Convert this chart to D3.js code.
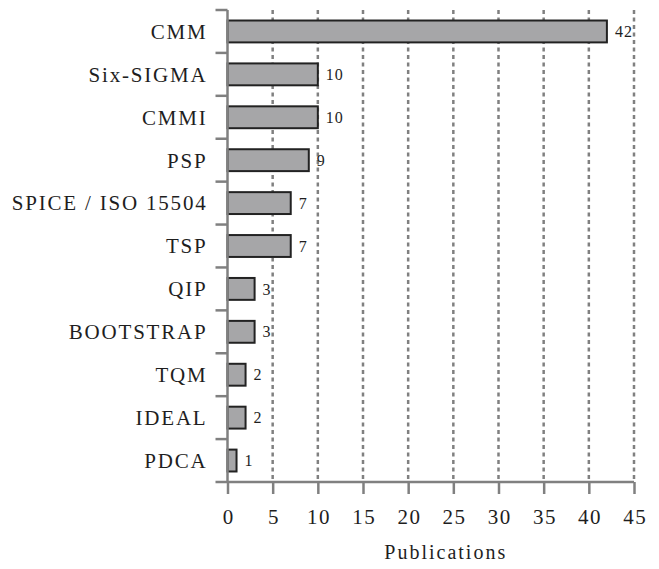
<!DOCTYPE html>
<html>
<head>
<meta charset="utf-8">
<script src="https://d3js.org/d3.v7.min.js"></script>
<style>
  body { margin: 0; background: #fff; }
  svg { font-family: "Liberation Serif", "DejaVu Serif", serif; }
</style>
</head>
<body>
<div id="chart"></div>
<script>
// Publications per improvement model
const categories = ["CMM", "Six-SIGMA", "CMMI", "PSP", "SPICE / ISO 15504", "TSP",
                    "QIP", "BOOTSTRAP", "TQM", "IDEAL", "PDCA"];
const publications = [42, 10, 10, 9, 7, 7, 3, 3, 2, 2, 1];
const xTicks = [0, 5, 10, 15, 20, 25, 30, 35, 40, 45];

const width = 659, height = 569;
const margin = { top: 10, right: 25, bottom: 87, left: 227.5 };
const innerW = width - margin.left - margin.right;
const innerH = height - margin.top - margin.bottom;

const axisColor = "#808080";
const textColor = "#1e1e1e";

const svg = d3.select("#chart")
    .append("svg")
    .attr("width", width)
    .attr("height", height);

const g = svg.append("g")
    .attr("transform", `translate(${margin.left},${margin.top})`);

const x = d3.scaleLinear().domain([0, 45]).range([0, innerW]);
const y = d3.scaleBand().domain(categories).range([0, innerH]).paddingInner(0.49).paddingOuter(0.245);

// dashed grid lines
g.selectAll("line.grid")
    .data(xTicks.slice(1))
    .enter()
    .append("line")
    .attr("class", "grid")
    .attr("x1", d => x(d))
    .attr("x2", d => x(d))
    .attr("y1", 0)
    .attr("y2", innerH)
    .attr("stroke", axisColor)
    .attr("stroke-width", 2.5)
    .attr("stroke-dasharray", "4,3.5");

// bars
g.selectAll("rect.bar")
    .data(publications)
    .enter()
    .append("rect")
    .attr("class", "bar")
    .attr("x", x(0))
    .attr("y", (d, i) => y(categories[i]))
    .attr("width", d => x(d) - x(0))
    .attr("height", y.bandwidth())
    .attr("fill", "#a6a6a8")
    .attr("stroke", "#222")
    .attr("stroke-width", 2);

// value labels
g.selectAll("text.value")
    .data(publications)
    .enter()
    .append("text")
    .attr("class", "value")
    .attr("x", d => x(d) + 8)
    .attr("y", (d, i) => y(categories[i]) + y.bandwidth() / 2)
    .attr("dy", "0.35em")
    .attr("font-size", "16px")
    .attr("letter-spacing", "1px")
    .attr("fill", textColor)
    .text(d => d);

// y axis: line with ticks at category boundaries
const step = y.step();
const boundaries = d3.range(categories.length).map(i => i * step);
g.append("line")
    .attr("x1", 0).attr("x2", 0)
    .attr("y1", 0).attr("y2", innerH)
    .attr("stroke", axisColor)
    .attr("stroke-width", 2.5);
g.selectAll("line.ytick")
    .data(boundaries)
    .enter()
    .append("line")
    .attr("class", "ytick")
    .attr("x1", -12).attr("x2", 0)
    .attr("y1", d => d).attr("y2", d => d)
    .attr("stroke", axisColor)
    .attr("stroke-width", 2.5);

g.selectAll("text.cat")
    .data(categories)
    .enter()
    .append("text")
    .attr("class", "cat")
    .attr("x", -20)
    .attr("y", d => y(d) + y.bandwidth() / 2)
    .attr("dy", "0.35em")
    .attr("text-anchor", "end")
    .attr("font-size", "21px")
    .attr("letter-spacing", "1.8px")
    .attr("fill", textColor)
    .text(d => d);

// x axis
const xAxis = g.append("g")
    .attr("transform", `translate(0,${innerH})`)
    .call(d3.axisBottom(x).tickValues(xTicks).tickSize(12).tickPadding(15).tickSizeOuter(0));
xAxis.select(".domain").remove();
xAxis.append("line")
    .attr("x1", -12).attr("x2", innerW)
    .attr("y1", 0).attr("y2", 0)
    .attr("stroke", axisColor)
    .attr("stroke-width", 2.5);
xAxis.selectAll(".tick line")
    .attr("stroke", axisColor)
    .attr("stroke-width", 2.5);
xAxis.selectAll(".tick text")
    .attr("font-family", "Liberation Serif, serif")
    .attr("font-size", "21px")
    .attr("letter-spacing", "1.5px")
    .attr("dx", "0.75px")
    .attr("fill", textColor);

svg.append("text")
    .attr("x", margin.left + innerW / 2 + 15)
    .attr("y", 559)
    .attr("text-anchor", "middle")
    .attr("font-size", "20px")
    .attr("letter-spacing", "2px")
    .attr("fill", textColor)
    .text("Publications");
</script>
</body>
</html>
